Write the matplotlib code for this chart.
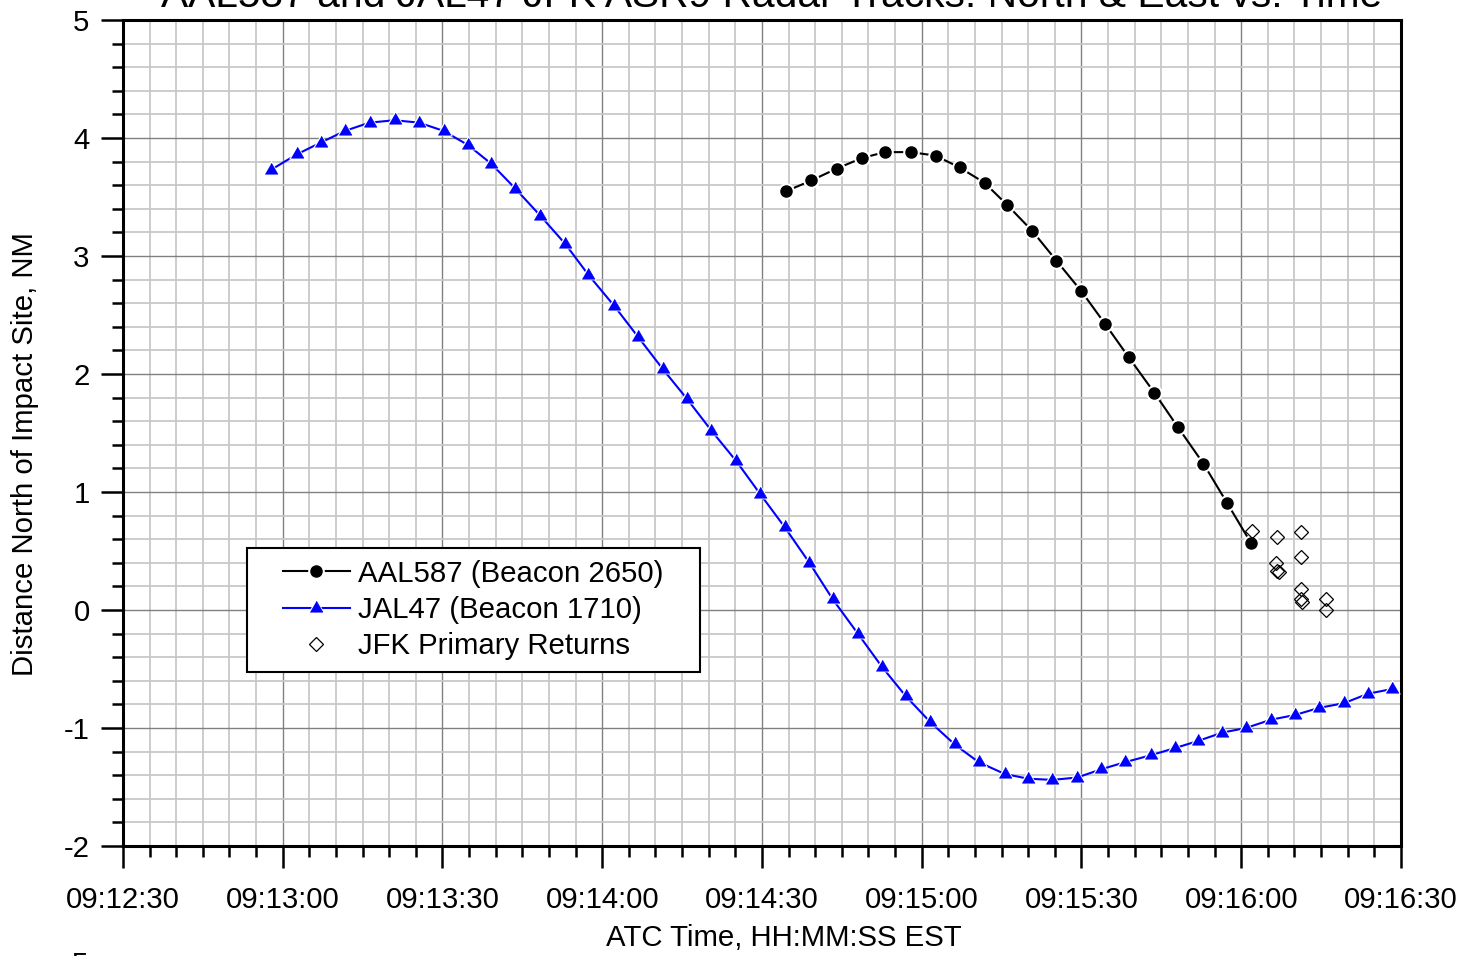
import numpy as np
import matplotlib
matplotlib.use('Agg')
import matplotlib.pyplot as plt
from matplotlib.ticker import MultipleLocator, FuncFormatter
from matplotlib.legend_handler import HandlerTuple, HandlerLine2D

plt.rcParams['font.family'] = ['Liberation Sans', 'DejaVu Sans']
plt.rcParams['axes.unicode_minus'] = False

# Tiempos en segundos despues de las 09:00:00 EST, distancias en NM
t_aal = [874.6, 879.3, 884.0, 888.8, 893.1, 898.0, 902.6, 907.1, 911.8, 916.1,
         920.8, 925.3, 930.0, 934.5, 938.9, 943.7, 948.1, 952.9, 957.3, 961.8]
y_aal = [3.55, 3.64, 3.74, 3.83, 3.88, 3.88, 3.85, 3.75, 3.62, 3.43,
         3.21, 2.96, 2.70, 2.42, 2.14, 1.84, 1.55, 1.24, 0.91, 0.57]

t_jal = [777.8, 782.6, 787.1, 791.7, 796.3, 801.0, 805.6, 810.2, 814.8, 819.2,
         823.7, 828.4, 833.1, 837.4, 842.2, 846.8, 851.4, 855.9, 860.5, 865.2,
         869.7, 874.3, 878.9, 883.3, 888.0, 892.5, 897.0, 901.6, 906.2, 910.7,
         915.6, 920.0, 924.5, 929.2, 933.7, 938.2, 943.1, 947.6, 951.9, 956.4,
         960.9, 965.6, 970.1, 974.6, 979.3, 983.8, 988.3]
y_jal = [3.73, 3.86, 3.96, 4.06, 4.13, 4.15, 4.13, 4.06, 3.94, 3.78,
         3.57, 3.34, 3.10, 2.84, 2.58, 2.31, 2.04, 1.79, 1.52, 1.26,
         0.98, 0.70, 0.40, 0.09, -0.20, -0.48, -0.73, -0.95, -1.14, -1.29,
         -1.39, -1.43, -1.44, -1.42, -1.35, -1.29, -1.23, -1.17, -1.11, -1.04,
         -1.00, -0.93, -0.89, -0.83, -0.79, -0.71, -0.67]

t_prim = [962.0, 966.7, 971.2, 971.2, 966.5, 966.8, 967.1, 971.2, 971.2, 971.5, 975.9, 975.9]
y_prim = [0.67, 0.62, 0.66, 0.45, 0.40, 0.33, 0.32, 0.18, 0.09, 0.07, 0.09, 0.00]

etiquetas = ['AAL587 (Beacon 2650)', 'JAL47 (Beacon 1710)', 'JFK Primary Returns']

def hms(s, pos=None):
    total = int(round(9 * 3600 + s))
    return '%02d:%02d:%02d' % (total // 3600, (total % 3600) // 60, total % 60)

# triangulo equilatero centrado en el baricentro
tri = [(-1, -0.577), (1, -0.577), (0, 1.155)]

fig = plt.figure(figsize=(14.78, 9.56), dpi=100)
ax = fig.add_axes([0.0832, 0.1151, 0.86468, 0.86402])

# linea, halo blanco (corta la linea junto al marcador) y marcador
l1, = ax.plot(t_aal, y_aal, color='black', lw=1.5, zorder=3)
h1, = ax.plot(t_aal, y_aal, ls='none', marker='o', ms=12, mfc='white', mec='none', zorder=4)
m1, = ax.plot(t_aal, y_aal, ls='none', marker='o', ms=8, mfc='black', mec='black', zorder=5)

l2, = ax.plot(t_jal, y_jal, color='#0000ff', lw=1.5, zorder=3)
h2, = ax.plot(t_jal, y_jal, ls='none', marker=tri, ms=14, mfc='white', mec='none', zorder=4)
m2, = ax.plot(t_jal, y_jal, ls='none', marker=tri, ms=10.5, mfc='#0000ff', mec='#0000ff', mew=0.5, zorder=5)

p3, = ax.plot(t_prim, y_prim, ls='none', marker='D', ms=7, mfc='none', mec='black', mew=0.9, zorder=5)

ax.set_xlim(750, 990)
ax.set_ylim(-2, 5)
ax.xaxis.set_major_locator(MultipleLocator(30))
ax.xaxis.set_minor_locator(MultipleLocator(5))
ax.xaxis.set_major_formatter(FuncFormatter(hms))
ax.yaxis.set_major_locator(MultipleLocator(1))
ax.yaxis.set_minor_locator(MultipleLocator(0.2))

ax.set_axisbelow(True)
ax.grid(which='major', color='#808080', lw=1.0)
ax.grid(which='minor', color='#c8c8c8', lw=1.3)

for sp in ax.spines.values():
    sp.set_linewidth(2.2)

ax.tick_params(which='major', direction='out', length=16, width=1.8, labelsize=21.2)
ax.tick_params(which='minor', direction='out', length=8, width=1.8)
ax.tick_params(axis='x', which='major', pad=13)
ax.tick_params(axis='y', which='major', pad=8)

ax.set_xlabel('ATC Time, HH:MM:SS EST', fontsize=21.2)
ax.set_ylabel('Distance North of Impact Site, NM', fontsize=21.2)
ax.xaxis.set_label_coords(0.517, -0.0945)
ax.yaxis.set_label_coords(-0.066, 0.4746)

xp = 0.82
hmap = {tuple: HandlerTuple(ndivide=1, xpad=xp), p3: HandlerLine2D(xpad=xp)}
leg = ax.legend([(l1, h1, m1), (l2, h2, m2), p3], etiquetas, handler_map=hmap,
                loc='upper left', bbox_to_anchor=(0.097, 0.0, 0.3545, 0.3608),
                mode='expand', borderaxespad=0,
                fontsize=21.2, fancybox=False, framealpha=1, edgecolor='black',
                handlelength=3.1, handletextpad=0.27, borderpad=0.4, labelspacing=0.28,
                numpoints=1)
leg.get_frame().set_linewidth(1.5)
leg.set_zorder(10)

fig.text(772 / 1478, 1 - 7 / 956, 'AAL587 and JAL47 JFK ASR9 Radar Tracks: North & East vs. Time',
         ha='center', va='baseline', fontsize=29.3)
# etiqueta superior del grafico siguiente (East)
fig.text(88 / 1478, 5 / 956, '5', ha='right', va='top', fontsize=21.2)

fig.savefig('out.png', dpi=100)
